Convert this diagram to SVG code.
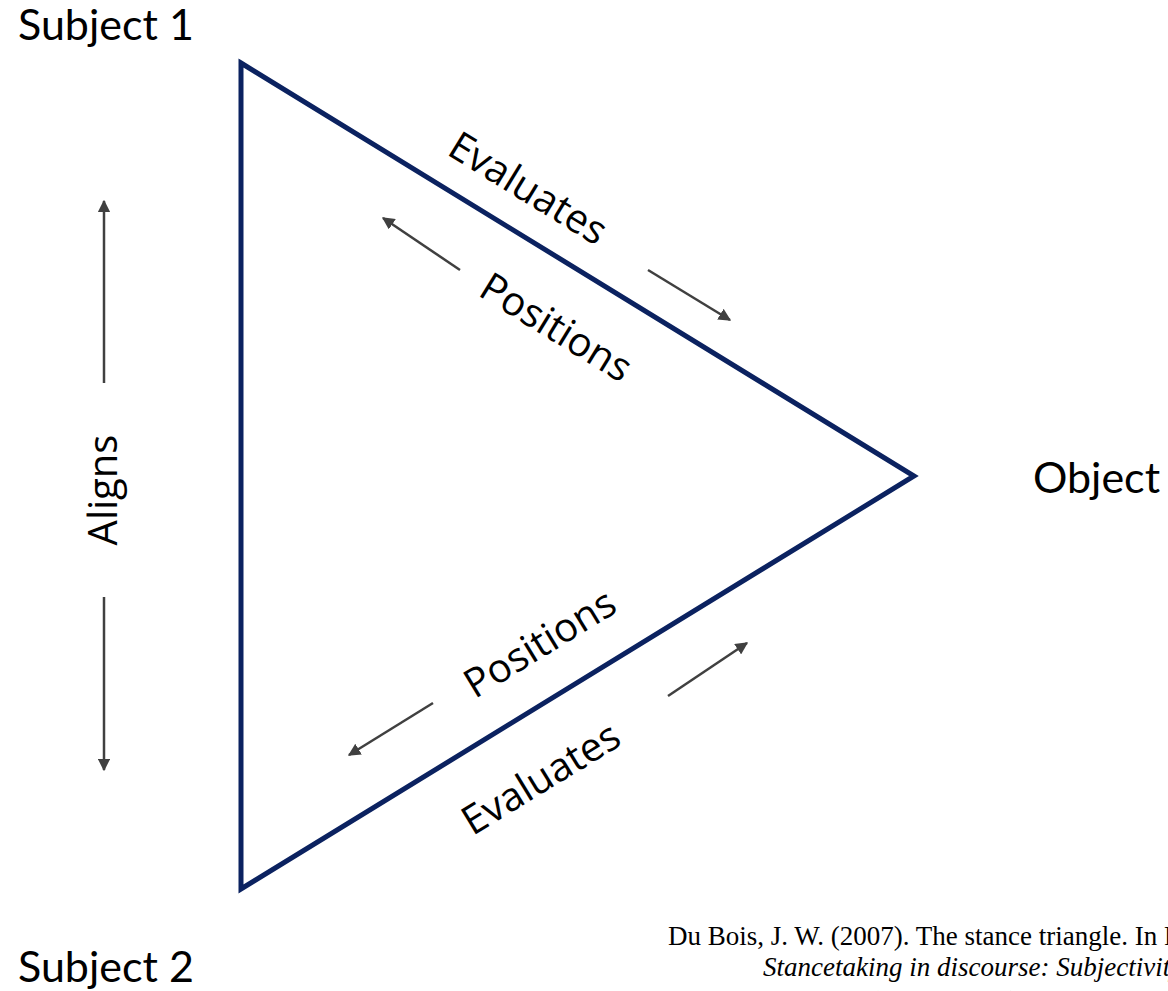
<svg xmlns="http://www.w3.org/2000/svg" width="1168" height="991" viewBox="0 0 1168 991">
<style>
.lbl{font-family:Lato,"Open Sans",sans-serif;font-size:43px;fill:#000}
.rot{font-family:"Open Sans","Noto Sans",sans-serif;font-size:40px;fill:#000;text-anchor:middle}
.cit{font-family:"Liberation Serif","Times New Roman",serif;font-size:27px;fill:#000}
.arr{stroke:#404040;stroke-width:2.5;fill:none;marker-end:url(#ah)}
</style>
<defs>
<marker id="ah" viewBox="0 0 10 10" refX="9" refY="5" markerWidth="5" markerHeight="5" orient="auto" markerUnits="strokeWidth">
<path d="M0,0 L10,5 L0,10 z" fill="#404040"/>
</marker>
</defs>
<rect width="1168" height="991" fill="#fff"/>
<g id="triangle">
<polygon points="241,63 914,476 241,889" fill="none" stroke="#0b2260" stroke-width="5" stroke-linejoin="miter"/>
</g>
<g id="subject1"><text class="lbl" x="18" y="40">Subject 1</text></g>
<g id="subject2"><text class="lbl" x="18" y="982">Subject 2</text></g>
<g id="object"><text class="lbl" x="1033" y="493">Object</text></g>
<g id="labels">
<text class="rot" font-size="41" transform="translate(117,490) rotate(-90)">Aligns</text>
<text class="rot" transform="translate(521,200) rotate(31.5)">Evaluates</text>
<text class="rot" transform="translate(549,339) rotate(31.5)">Positions</text>
<text class="rot" transform="translate(547,655) rotate(-31.5)">Positions</text>
<text class="rot" transform="translate(548,790) rotate(-31.5)">Evaluates</text>
</g>
<g id="connectors">
<line class="arr" x1="104" y1="383" x2="104" y2="201"/>
<line class="arr" x1="104" y1="597" x2="104" y2="770"/>
<line class="arr" x1="460" y1="270" x2="383" y2="218"/>
<line class="arr" x1="648" y1="270" x2="730" y2="320"/>
<line class="arr" x1="433" y1="703" x2="349" y2="755"/>
<line class="arr" x1="668" y1="696" x2="747" y2="643"/>
</g>
<g id="citation">
<text class="cit" x="668" y="945">Du Bois, J. W. (2007). The stance triangle. In R. Englebretson (Ed.),</text>
<text class="cit" x="763" y="976" font-style="italic">Stancetaking in discourse: Subjectivity, evaluation, interaction</text>
<text class="cit" x="870" y="1010">(pp. 139-182). John Benjamins.</text>
</g>
</svg>
